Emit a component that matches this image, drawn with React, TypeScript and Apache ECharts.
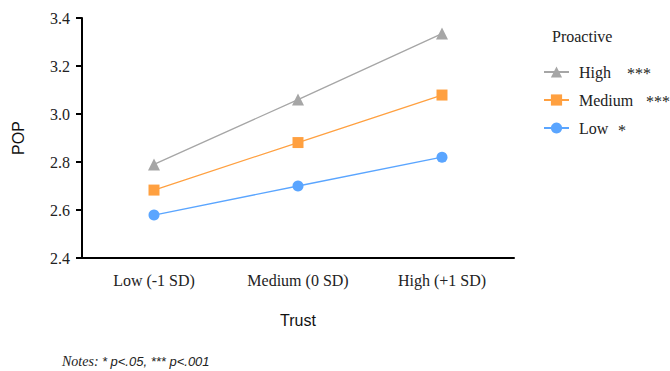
import React, { useEffect, useRef } from "react";
import * as echarts from "echarts";

const categories = ["Low (-1 SD)", "Medium (0 SD)", "High (+1 SD)"];
const seriesNames = ["High", "Medium", "Low"];
const highValues = [2.79, 3.06, 3.335];
const mediumValues = [2.683, 2.881, 3.079];
const lowValues = [2.579, 2.7, 2.82];
const stars = ["***", "***", "*"];

const SERIF = "'Liberation Serif', 'Times New Roman', serif";
const SANS = "'Liberation Sans', Arial, sans-serif";

export default function App() {
  const ref = useRef<HTMLDivElement>(null);
  useEffect(() => {
    if (!ref.current) return;
    const chart = echarts.init(ref.current, undefined, { renderer: "svg" });
    const colors = ["#a6a6a6", "#ffa040", "#5aa5ff"];
    const symbols = ["triangle", "rect", "circle"];
    const sizes = [12, 11, 11];
    const data = [highValues, mediumValues, lowValues];
    const starX = [627, 646, 618];
    const rowY = [72, 100, 129];
    chart.setOption({
      animation: false,
      grid: { left: 82, right: 156, top: 18, bottom: 113 },
      xAxis: {
        type: "category",
        data: categories,
        boundaryGap: true,
        name: "Trust",
        nameLocation: "middle",
        nameGap: 54,
        nameTextStyle: { fontFamily: SANS, fontSize: 16, color: "#111" },
        axisLine: { lineStyle: { color: "#000", width: 2 } },
        axisTick: { alignWithLabel: true, length: 6, lineStyle: { color: "#000", width: 2 } },
        axisLabel: { fontFamily: SERIF, fontSize: 16, color: "#222", margin: 14 },
      },
      yAxis: {
        type: "value",
        min: 2.4,
        max: 3.4,
        interval: 0.2,
        name: "POP",
        nameLocation: "middle",
        nameGap: 56,
        nameTextStyle: { fontFamily: SANS, fontSize: 16, color: "#111" },
        splitLine: { show: false },
        axisLine: { show: true, lineStyle: { color: "#000", width: 2 } },
        axisTick: { show: true, length: 6, lineStyle: { color: "#000", width: 2 } },
        axisLabel: {
          fontFamily: SERIF,
          fontSize: 16,
          color: "#222",
          margin: 12,
          formatter: (v: number) => v.toFixed(1),
        },
      },
      legend: {
        orient: "vertical",
        left: 538,
        top: 59,
        itemWidth: 25,
        itemHeight: 14,
        itemGap: 12,
        data: seriesNames,
        textStyle: { fontFamily: SERIF, fontSize: 16, color: "#222", padding: [0, 0, 0, 5], lineHeight: 16 },
      },
      graphic: [
        {
          type: "text",
          left: 552,
          top: 28,
          style: { text: "Proactive", font: `16px ${SERIF}`, fill: "#222" },
        },
        ...stars.map((s, i) => ({
          type: "text",
          x: starX[i],
          y: rowY[i] + 1,
          style: { text: s, font: `16px ${SERIF}`, fill: "#222", verticalAlign: "middle" },
        })),
        {
          type: "text",
          left: 62,
          top: 354,
          style: {
            text: "{a|Notes:} {b|* p<.05, *** p<.001}",
            rich: {
              a: { fontFamily: SERIF, fontStyle: "italic", fontSize: 14, fill: "#222" },
              b: { fontFamily: SANS, fontStyle: "italic", fontSize: 13, fill: "#222" },
            },
          },
        },
      ],
      series: seriesNames.map((n, i) => ({
        name: n,
        type: "line",
        data: data[i],
        symbol: symbols[i],
        symbolSize: sizes[i],
        itemStyle: { color: colors[i] },
        lineStyle: { color: colors[i], width: 1.3 },
        z: 3 - i,
      })),
    });
    return () => chart.dispose();
  }, []);
  return <div ref={ref} style={{ width: 670, height: 371, position: "absolute", left: 0, top: 0 }} />;
}
